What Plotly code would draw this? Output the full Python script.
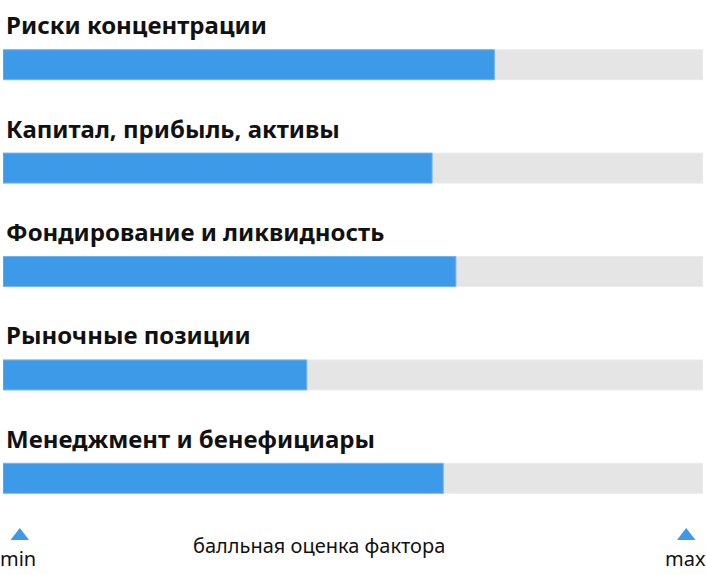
import plotly.graph_objects as go

categories = [
    "Риски концентрации",
    "Капитал, прибыль, активы",
    "Фондирование и ликвидность",
    "Рыночные позиции",
    "Менеджмент и бенефициары",
]
scores = [70.2, 61.3, 64.7, 43.4, 62.9]
scale_max = 100
axis_label = "балльная оценка фактора"
min_label = "min"
max_label = "max"

BLUE = "#3d9ae8"
GRAY = "#e5e5e5"
TXT = "#111111"

ypos = list(range(len(categories)))
y_bottom = len(categories) - 0.5  # lower edge of the bar area

fig = go.Figure()
fig.add_trace(go.Bar(
    y=ypos, x=[scale_max] * len(categories), orientation="h", base=0,
    width=0.29, marker=dict(color=GRAY, line=dict(color="#ececec", width=1)),
    hoverinfo="skip", showlegend=False,
))
fig.add_trace(go.Bar(
    y=ypos, x=scores, orientation="h", base=0,
    width=0.29, marker=dict(color=BLUE, line=dict(color="#72b5ee", width=1)),
    text=categories, hovertemplate="%{text}: %{x}<extra></extra>",
    textposition="none", showlegend=False,
))
# min / max markers
fig.add_trace(go.Scatter(
    x=[2.4, 97.6], y=[y_bottom + 0.058] * 2, mode="markers",
    marker=dict(symbol="triangle-up", size=16, color=BLUE),
    cliponaxis=False, hoverinfo="skip", showlegend=False,
))

annotations = []
for i, c in enumerate(categories):
    annotations.append(dict(
        x=0, y=i, xref="x", yref="y", text="<b>%s</b>" % c, showarrow=False,
        xanchor="left", yanchor="middle", xshift=1, yshift=40,
        font=dict(family="Noto Sans", size=24, color=TXT),
    ))
annotations.append(dict(
    x=0, y=y_bottom, xref="x", yref="y", text=min_label, showarrow=False,
    xanchor="left", yanchor="middle", xshift=-5, yshift=-28,
    font=dict(family="Noto Sans", size=20, color=TXT),
))
annotations.append(dict(
    x=scale_max, y=y_bottom, xref="x", yref="y", text=max_label, showarrow=False,
    xanchor="right", yanchor="middle", xshift=5, yshift=-28,
    font=dict(family="Noto Sans", size=20, color=TXT),
))
annotations.append(dict(
    x=45.1, y=y_bottom, xref="x", yref="y", text=axis_label, showarrow=False,
    xanchor="center", yanchor="middle", yshift=-15,
    font=dict(family="Noto Sans", size=20, color=TXT),
))

fig.update_layout(
    width=706, height=575,
    margin=dict(l=3, r=3, t=13, b=0),
    paper_bgcolor="white", plot_bgcolor="white",
    barmode="overlay",
    xaxis=dict(range=[0, scale_max], visible=False, fixedrange=True),
    yaxis=dict(range=[4.935, -0.5], visible=False, fixedrange=True),
    annotations=annotations,
    font=dict(family="Noto Sans"),
)
fig.write_html(
    "out.html",
    config={"displayModeBar": False},
    post_script="document.body.style.margin='0';document.body.style.overflow='hidden';",
)
